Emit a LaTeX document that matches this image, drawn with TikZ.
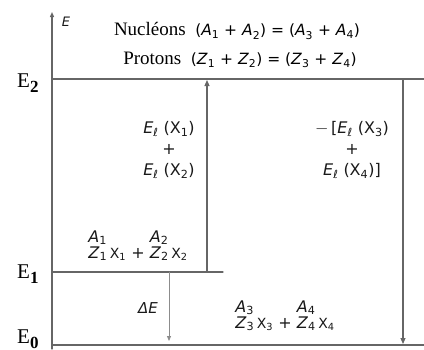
\documentclass[tikz,border=0pt]{standalone}
\usepackage{fontspec}
\setmainfont{Liberation Serif}
\newfontfamily\sansf{DejaVu Sans}
\usetikzlibrary{arrows.meta}
\newcommand{\iv}[2]{\textit{#1}\textsubscript{#2}}
\newcommand{\nucl}[1]{\begin{tabular}[b]{@{}c@{}}\iv{A}{#1}\\[-5pt]\iv{Z}{#1}\end{tabular}\,{\fontsize{14}{14}\selectfont X\textsubscript{#1}}}
\tikzset{
  lvl/.style={line width=1.1pt,draw=black!60},
  tr/.style={lvl,-{Triangle[width=5pt,length=6pt]}},
  serif/.style={font=\fontsize{19}{20}\selectfont,text=black,inner sep=0pt},
  lbl/.style={font=\fontsize{21}{21}\selectfont,text=black,inner sep=0pt,anchor=base west},
  sans/.style={font=\sansf\fontsize{16}{21}\selectfont,text=black!90,inner sep=0pt,align=center}
}
\begin{document}
\begin{tikzpicture}[x=1pt,y=-1pt,line cap=round,line join=round]
  \useasboundingbox (0,0) rectangle (424,349);
  % levels
  \coordinate (O) at (52,349); \coordinate (Etop) at (52,12);
  \coordinate (E2a) at (52,79); \coordinate (E2b) at (424,79);
  \coordinate (E1a) at (52,272); \coordinate (E1b) at (223,272);
  \coordinate (E0a) at (52,345); \coordinate (E0b) at (424,345);
  \draw[lvl,-{Triangle[width=4pt,length=5pt]}] (O)--(Etop);
  \foreach \a/\b in {E2a/E2b,E1a/E1b,E0a/E0b}{\draw[lvl] (\a)--(\b);}
  \foreach \n/\y in {2/87,1/278,0/343}{\node[lbl] (L\n) at (17,\y) {E\raisebox{-5pt}{\bfseries\fontsize{17}{17}\selectfont\n}};}
  \node[sans,font=\sansf\itshape\fontsize{13}{13}\selectfont] (E) at (66,22) {E};
  % conservation
  \node[serif] (nuc) at (237,31) {Nucléons\enspace{\sansf\fontsize{15.5}{15}\selectfont(\iv A1 + \iv A2) = (\iv A3 + \iv A4)}};
  \node[serif] (pro) at (240,60) {Protons\enspace{\sansf\fontsize{15.5}{15}\selectfont(\iv Z1 + \iv Z2) = (\iv Z3 + \iv Z4)}};
  % arrows
  \coordinate (u0) at (207,272); \coordinate (u1) at (207,80);
  \coordinate (d0) at (403,79); \coordinate (d1) at (403,344);
  \coordinate (q0) at (169,272); \coordinate (q1) at (169,341);
  \draw[tr] (u0)--(u1);
  \draw[tr] (d0)--(d1);
  \draw[tr,draw=black!45,line width=0.8pt,-{Triangle[width=4pt,length=5pt]}] (q0)--(q1);
  % energies
  \node[sans] (B12) at (169,150) {\textit{E}\textsubscript{ℓ} (X\textsubscript{1})\\+\\\textit{E}\textsubscript{ℓ} (X\textsubscript{2})};
  \node[sans] (B34) at (352,150) {$-$\,[\textit{E}\textsubscript{ℓ} (X\textsubscript{3})\\+\\\textit{E}\textsubscript{ℓ} (X\textsubscript{4})]};
  \node[sans,font=\sansf\itshape\fontsize{15}{15}\selectfont] (dE) at (148,308) {ΔE};
  % nuclei
  \node[sans] (N12) at (138,246) {\nucl1 + \nucl2};
  \node[sans] (N34) at (285,316) {\nucl3 + \nucl4};
\end{tikzpicture}
\end{document}
